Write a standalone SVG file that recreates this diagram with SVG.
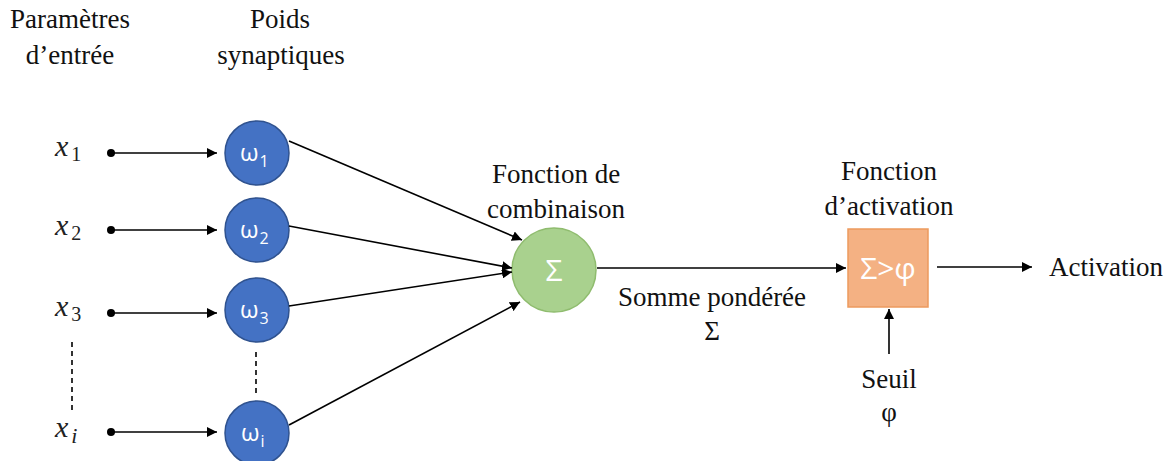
<svg xmlns="http://www.w3.org/2000/svg" width="1173" height="461" viewBox="0 0 1173 461">
<defs>
<marker id="ah" viewBox="0 0 10 10" refX="10" refY="5" markerWidth="10" markerHeight="10" markerUnits="userSpaceOnUse" orient="auto"><path d="M0,0 L10,5 L0,10 z" fill="#000"/></marker>
<style>
.serif{font-family:'Liberation Serif','Times New Roman',Times,'DejaVu Serif','Noto Serif',FreeSerif,Tinos,serif}
.lbl{font-size:27px;fill:#111;text-anchor:middle}
.mx{font-style:italic;font-size:30px;fill:#222}
.sub{font-style:normal;font-size:20px;fill:#222}
.w{fill:#4472C4;stroke:#2F528F;stroke-width:1.5}
.sans{font-family:'Open Sans','Liberation Sans',sans-serif}
.wt{fill:#fff;font-size:24px}
.ws{fill:#fff;font-size:16px}
.ln{stroke:#000;stroke-width:1.6;fill:none}
.dsh{stroke:#000;stroke-width:1.6;stroke-dasharray:5,4}
</style>
</defs>
<g id="titles" class="serif">
<text class="lbl" x="70" y="28">Paramètres</text>
<text class="lbl" x="70" y="64">d’entrée</text>
<text class="lbl" x="280" y="28">Poids</text>
<text class="lbl" x="281" y="64">synaptiques</text>
</g>
<g id="inputs" class="serif">
<g id="x1"><text class="mx" x="55" y="156">x<tspan class="sub" dx="3" dy="5">1</tspan></text></g>
<g id="x2"><text class="mx" x="55" y="235">x<tspan class="sub" dx="3" dy="5">2</tspan></text></g>
<g id="x3"><text class="mx" x="55" y="316">x<tspan class="sub" dx="3" dy="5">3</tspan></text></g>
<g id="xi"><text class="mx" x="55" y="437">x<tspan dx="3" dy="6" style="font-size:22px">i</tspan></text></g>
</g>
<g id="weights" class="sans">
<g id="w1"><circle class="w" cx="257" cy="153" r="32"/><text class="wt" x="240" y="161">ω<tspan class="ws" dx="1" dy="6">1</tspan></text></g>
<g id="w2"><circle class="w" cx="257" cy="230" r="32"/><text class="wt" x="240" y="238">ω<tspan class="ws" dx="1" dy="6">2</tspan></text></g>
<g id="w3"><circle class="w" cx="257" cy="310" r="32"/><text class="wt" x="240" y="318">ω<tspan class="ws" dx="1" dy="6">3</tspan></text></g>
<g id="wi"><circle class="w" cx="257" cy="433" r="32"/><text class="wt" x="241" y="441">ω<tspan class="ws" dx="1" dy="6">i</tspan></text></g>
</g>
<g id="combination">
<circle cx="554" cy="270" r="42" fill="#A9D18E" stroke="#8FBC6E" stroke-width="1.5"/>
<text class="sans" x="554" y="281" text-anchor="middle" font-size="30" fill="#fff">Σ</text>
<text class="lbl serif" x="556" y="183">Fonction de</text>
<text class="lbl serif" x="556" y="218">combinaison</text>
</g>
<g id="sum-label" class="serif">
<text class="lbl" x="712" y="306">Somme pondérée</text>
<text class="lbl" x="712" y="340">Σ</text>
</g>
<g id="activation-fn">
<rect x="848" y="229" width="80" height="78" fill="#F4B183" stroke="#ED9A5E" stroke-width="1.5"/>
<text class="sans" x="888" y="279" text-anchor="middle" font-size="30" fill="#fff">Σ&gt;φ</text>
<text class="lbl serif" x="889" y="180">Fonction</text>
<text class="lbl serif" x="889" y="215">d’activation</text>
</g>
<g id="threshold" class="serif">
<text class="lbl" x="889" y="388">Seuil</text>
<text class="lbl" x="889" y="421">φ</text>
</g>
<g id="output" class="serif"><text class="lbl" x="1106" y="276">Activation</text></g>
<g id="connectors">
<circle cx="111" cy="153" r="4"/><line class="ln" x1="111" y1="153" x2="217" y2="153" marker-end="url(#ah)"/>
<circle cx="111" cy="230" r="4"/><line class="ln" x1="111" y1="230" x2="217" y2="230" marker-end="url(#ah)"/>
<circle cx="111" cy="313" r="4"/><line class="ln" x1="111" y1="313" x2="217" y2="313" marker-end="url(#ah)"/>
<circle cx="111" cy="432" r="4"/><line class="ln" x1="111" y1="432" x2="217" y2="432" marker-end="url(#ah)"/>
<line class="dsh" x1="72" y1="342" x2="72" y2="410"/>
<line class="dsh" x1="256" y1="352" x2="256" y2="394"/>
<line class="ln" x1="289" y1="141" x2="522" y2="240" marker-end="url(#ah)"/>
<line class="ln" x1="289" y1="226" x2="512" y2="268" marker-end="url(#ah)"/>
<line class="ln" x1="289" y1="306" x2="512" y2="272" marker-end="url(#ah)"/>
<line class="ln" x1="289" y1="425" x2="520" y2="302" marker-end="url(#ah)"/>
<line class="ln" x1="597" y1="268" x2="846" y2="268" marker-end="url(#ah)"/>
<line class="ln" x1="937" y1="267" x2="1032" y2="267" marker-end="url(#ah)"/>
<line class="ln" x1="889" y1="354" x2="889" y2="309" marker-end="url(#ah)"/>
</g>
</svg>
